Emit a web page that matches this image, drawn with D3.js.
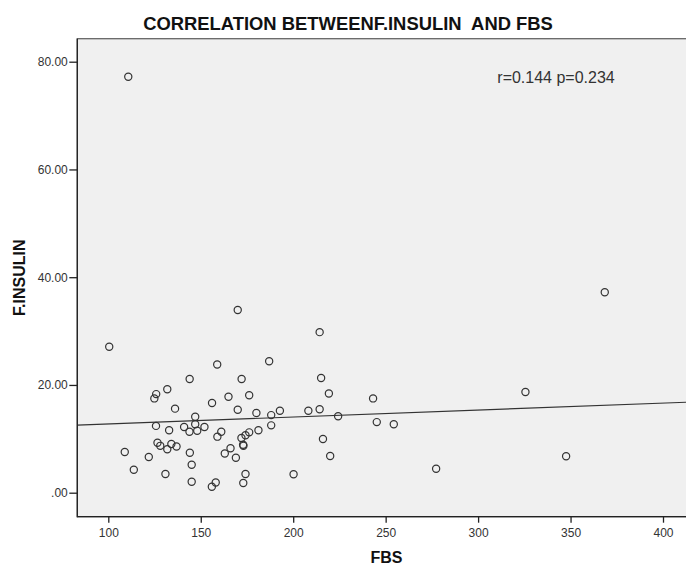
<!DOCTYPE html>
<html>
<head>
<meta charset="utf-8">
<script src="https://cdn.jsdelivr.net/npm/d3@7"></script>
<style>
  body { margin: 0; background: #fff; }
  svg { display: block; font-family: "Liberation Sans", Arial, sans-serif; }
</style>
</head>
<body>
<script>
// FBS (x) and F.INSULIN (y) for each subject
const fbs = [
  100.5, 110.8, 144.0, 131.9, 125.9, 124.9, 136.1, 147.0, 125.8, 132.9,
  141.0, 143.9, 147.0, 148.1, 152.0, 108.9, 126.6, 128.1, 131.9, 134.1,
  136.9, 121.9, 144.1, 145.1, 113.8, 130.9, 145.1,
  170.0, 158.9, 187.0, 172.1, 165.0, 176.2, 156.1, 170.0, 180.1, 188.1,
  192.8, 188.1, 161.1, 159.0, 181.2, 176.2, 174.2, 172.0, 172.9, 173.1,
  166.1, 163.0, 169.0, 174.2, 200.2, 173.0, 158.1, 156.0,
  214.3, 215.1, 219.3, 243.2, 208.2, 214.3, 224.3, 245.2, 254.4, 216.1,
  220.0, 277.3, 368.5, 325.6, 347.6
];
const insulin = [
  27.1, 77.2, 21.1, 19.2, 18.3, 17.5, 15.6, 14.1, 12.4, 11.6,
  12.2, 11.3, 12.7, 11.5, 12.2, 7.55, 9.26, 8.7, 8.07, 9.04,
  8.58, 6.63, 7.42, 5.2, 4.27, 3.47, 2.04,
  33.9, 23.8, 24.4, 21.1, 17.8, 18.1, 16.65, 15.4, 14.8, 14.4,
  15.2, 12.5, 11.3, 10.4, 11.6, 11.2, 10.65, 10.15, 8.9, 8.7,
  8.26, 7.28, 6.48, 3.47, 3.42, 1.8, 1.89, 1.11,
  29.8, 21.3, 18.4, 17.5, 15.2, 15.5, 14.2, 13.1, 12.7, 9.97,
  6.81, 4.45, 37.2, 18.7, 6.76
];
const xTicks = [100, 150, 200, 250, 300, 350, 400];
const yTicks = [0, 20, 40, 60, 80];
const yTickLabels = ['.00', '20.00', '40.00', '60.00', '80.00'];
const titleText = 'CORRELATION BETWEENF.INSULIN  AND FBS';
const statText = 'r=0.144 p=0.234';

const w = 686, h = 566;
const plot = {left: 77.3, top: 38.7, right: 696, bottom: 516.7};

const svg = d3.select('body').
append('svg').
attr('width', w).
attr('height', h);

const xScale = d3.scaleLinear().
domain([100, 400]).
range([108.3, 663]);

const yScale = d3.scaleLinear().
domain([0, 80]).
range([492.7, 61.7]);

// plot panel
svg.append('rect').
attr('x', plot.left).
attr('y', plot.top).
attr('width', plot.right - plot.left).
attr('height', plot.bottom - plot.top).
attr('fill', '#f0f0f0').
attr('stroke', '#666').
attr('stroke-width', 1.3);

// least squares fit line
const n = fbs.length;
const mx = d3.mean(fbs), my = d3.mean(insulin);
let sxy = 0, sxx = 0;
for (let i = 0; i < n; i++) {
  sxy += (fbs[i] - mx) * (insulin[i] - my);
  sxx += (fbs[i] - mx) * (fbs[i] - mx);
}
const slope = sxy / sxx;
const intercept = my - slope * mx;
const x0 = xScale.invert(plot.left), x1 = xScale.invert(plot.right);

svg.append('line').
attr('x1', xScale(x0)).
attr('y1', yScale(intercept + slope * x0)).
attr('x2', xScale(x1)).
attr('y2', yScale(intercept + slope * x1)).
attr('stroke', '#333').
attr('stroke-width', 1.1);

svg.selectAll('circle.pt').
data(fbs).
enter().
append('circle').
attr('class', 'pt').
attr('cx', d => xScale(d)).
attr('cy', (d, i) => yScale(insulin[i])).
attr('r', 3.6).
attr('fill', 'none').
attr('stroke', '#333').
attr('stroke-width', 1.2);

const yAxis = d3.axisLeft(yScale).
tickValues(yTicks).
tickFormat((d, i) => yTickLabels[i]).
tickSize(8).
tickSizeOuter(0).
tickPadding(1.5);

const gy = svg.append('g').
attr('transform', 'translate(' + plot.left + ',0)').
call(yAxis);
gy.select('.domain').remove();
gy.append('line').
attr('y1', plot.top).
attr('y2', plot.bottom + 0.5).
attr('stroke', '#222').
attr('stroke-width', 1.3);

const xAxis = d3.axisBottom(xScale).
tickValues(xTicks).
tickSize(6).
tickSizeOuter(0).
tickPadding(6);

const gx = svg.append('g').
attr('transform', 'translate(0,' + plot.bottom + ')').
call(xAxis);
gx.select('.domain').remove();
gx.append('line').
attr('x1', plot.left).
attr('x2', plot.right).
attr('stroke', '#222').
attr('stroke-width', 1.3);

svg.selectAll('.tick line').attr('stroke', '#222').attr('stroke-width', 1.3);
svg.selectAll('.tick text').
attr('fill', '#333').
style('font-family', '"Liberation Sans", Arial, sans-serif').
style('font-size', '12px');

// title
svg.append('text').
attr('x', 348).
attr('y', 30).
attr('text-anchor', 'middle').
style('white-space', 'pre').
style('font-weight', 'bold').
style('font-size', '18.4px').
attr('fill', '#111').
text(titleText);

svg.append('text').
attr('x', 497.3).
attr('y', 83.3).
style('font-size', '16px').
attr('fill', '#333').
text(statText);

svg.append('text').
attr('x', 386.5).
attr('y', 563).
attr('text-anchor', 'middle').
style('font-weight', 'bold').
style('font-size', '16px').
attr('fill', '#111').
text('FBS');

svg.append('text').
attr('transform', 'translate(24.5,' + ((plot.top + plot.bottom) / 2) + ') rotate(-90)').
attr('text-anchor', 'middle').
style('font-weight', 'bold').
style('font-size', '16px').
attr('fill', '#111').
text('F.INSULIN');
</script>
</body>
</html>
